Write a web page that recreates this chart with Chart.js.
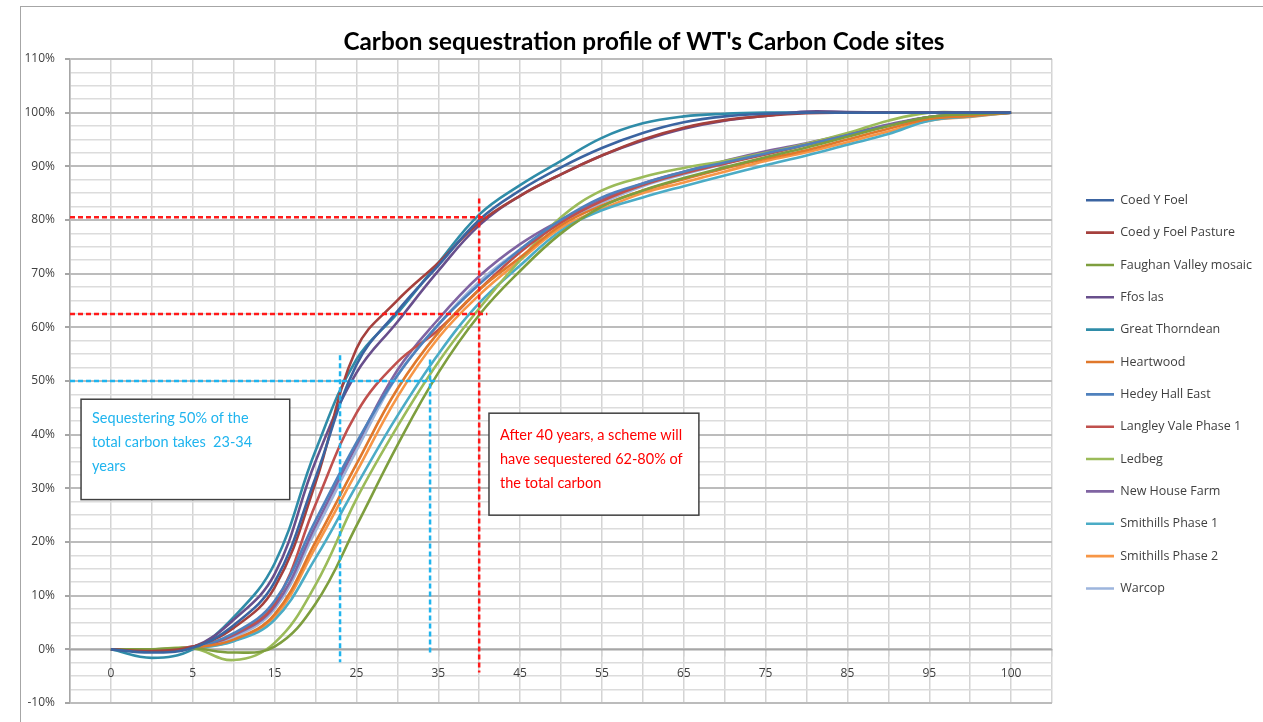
<!DOCTYPE html>
<html>
<head>
<meta charset="utf-8">
<script src="https://cdn.jsdelivr.net/npm/chart.js@4.4.1/dist/chart.umd.min.js"></script>
<style>
    html, body { margin: 0; padding: 0; background: #fff; }
    #wrap { position: relative; width: 1263px; height: 722px; overflow: hidden; }
    #frame { position: absolute; left: 20px; top: 6px; width: 1300px; height: 800px; border: 1.5px solid #a6a6a6; box-sizing: border-box; }
    canvas { position: absolute; left: 0; top: 0; }
</style>
</head>
<body>
<div id="wrap">
    <div id="frame"></div>
    <canvas id="carbonChart" width="1263" height="722"></canvas>
</div>
<script>
// years on the category axis (every other one is labelled)
const years = [0, 2.5, 5, 10, 15, 20, 25, 30, 35, 40, 45, 50, 55, 60, 65, 70, 75, 80, 85, 90, 95, 97.5, 100];

const siteNames = [
    'Coed Y Foel', 'Coed y Foel Pasture', 'Faughan Valley mosaic', 'Ffos las', 'Great Thorndean',
    'Heartwood', 'Hedey Hall East', 'Langley Vale Phase 1', 'Ledbeg', 'New House Farm',
    'Smithills Phase 1', 'Smithills Phase 2', 'Warcop'
];
const siteColours = [
    '#3b64a1', '#a5403d', '#7e9e3e', '#684f8c', '#2f8ca8', '#e0782b', '#4f81bd',
    '#c0504d', '#9bbb59', '#8064a2', '#4bacc6', '#f79646', '#9db5dd'
];

// % of total carbon sequestered
const coedYFoel        = [0, -0.6, 0.3, 4.5, 12.5, 32, 53, 63, 71.5, 80, 85.5, 89.8, 93.4, 96.2, 98.2, 99.3, 99.8, 100, 100, 100, 100, 100, 100];
const coedYFoelPasture = [0, -0.3, 0.5, 4, 11.5, 31, 56, 65, 72, 79.5, 84.5, 88.5, 92, 95, 97.2, 98.6, 99.4, 99.9, 100, 100, 100, 100, 100];
const faughanValley    = [0, 0, 0.2, -0.6, 0.5, 8.5, 23, 38, 51.5, 62.3, 70.5, 77.5, 82.5, 85.5, 87.8, 89.8, 91.7, 93.5, 95.5, 97.5, 99.2, 99.7, 100];
const ffosLas          = [0, 0, 0.4, 5.5, 14, 35, 51.5, 61, 70.5, 79, 84.5, 88.5, 92, 94.8, 97, 98.5, 99.4, 100.2, 100.1, 100, 100, 100, 100];
const greatThorndean   = [0, -1.6, 0, 6, 16, 37, 54, 62.6, 72, 81, 86.5, 91, 95.3, 98, 99.3, 99.8, 100, 100, 100, 100, 100, 100, 100];
const heartwood        = [0, -0.2, 0.3, 1.8, 6.5, 20, 34.5, 48.5, 59, 67, 73, 79, 82.7, 85.5, 87.6, 89.6, 91.4, 93, 95, 97, 98.8, 99.4, 100];
const hedeyHallEast    = [0, -0.3, 0.4, 3, 9, 24, 38.5, 51, 60.5, 68, 74.5, 80, 84.2, 86.8, 89, 90.7, 92.4, 94, 95.8, 97.6, 99.2, 99.7, 100];
const langleyVale1     = [0, -0.2, 0.5, 2.8, 8.5, 27, 44, 53.5, 59.5, 67, 74, 79.5, 83.5, 86.5, 88.7, 90.5, 92.2, 94, 95.8, 97.6, 99.2, 99.7, 100];
const ledbeg           = [0, 0, 0.2, -2, 1.2, 12, 28, 41.5, 53.5, 63.5, 72.5, 80.5, 85.5, 88, 89.7, 91, 92.5, 94.2, 96.2, 98.5, 100, 100, 100];
const newHouseFarm     = [0, 0, 0.5, 2.6, 8, 23, 38, 52, 61.5, 69.5, 75.5, 80, 83.8, 86.8, 89, 91, 92.8, 94.3, 96, 97.8, 99.2, 99.7, 100];
const smithills1       = [0, -0.3, 0.2, 1.5, 5.5, 17, 30.5, 43.5, 55, 64.5, 71.5, 78, 81.8, 84.2, 86.3, 88.3, 90.2, 92, 94, 96, 98.5, 99.3, 100];
const smithills2       = [0, -0.2, 0.3, 1.6, 6, 19, 33, 47, 58, 66, 72.5, 78.5, 82, 85, 87, 89, 91, 92.6, 94.5, 96.5, 98.5, 99.2, 100];
const warcop           = [0, -0.2, 0.4, 2.2, 7.5, 22, 37, 51, 60.5, 68.5, 74.5, 79.5, 83.2, 86.3, 88.5, 90.5, 92.3, 94, 95.7, 97.5, 99, 99.6, 100];

const siteValues = [coedYFoel, coedYFoelPasture, faughanValley, ffosLas, greatThorndean, heartwood, hedeyHallEast,
    langleyVale1, ledbeg, newHouseFarm, smithills1, smithills2, warcop];

// dashed guides, x in years (null = left edge of the plot), y in %
const guides = [
    {colour: '#ff1a1a', x1: null, y1: 80.5, x2: 41, y2: 80.5},
    {colour: '#ff1a1a', x1: null, y1: 62.5, x2: 41, y2: 62.5},
    {colour: '#ff1a1a', x1: 40, y1: 84, x2: 40, y2: -4.3},
    {colour: '#1fb4ee', x1: null, y1: 50, x2: 35, y2: 50},
    {colour: '#1fb4ee', x1: 23, y1: 54.8, x2: 23, y2: -2.4},
    {colour: '#1fb4ee', x1: 34, y1: 54, x2: 34, y2: -1.1}
];

// note boxes, x in axis slots, y in %
const notes = [
    {colour: '#1fb4ee', x1: -0.73, x2: 4.37, y1: 46.6, y2: 27.9, textTop: 19,
        lines: ['Sequestering 50% of the', 'total carbon takes  23-34', 'years']},
    {colour: '#ff0000', x1: 9.24, x2: 14.37, y1: 44, y2: 25, textTop: 22,
        lines: ['After 40 years, a scheme will', 'have sequestered 62-80% of', 'the total carbon']}
];

const yearToSlot = (year) => {
    for (let i = 1; i < years.length; i++) {
        if (year <= years[i]) {
            return i - 1 + (year - years[i - 1]) / (years[i] - years[i - 1]);
        }
    }
    return years.length - 1;
};

const isMajor = (v) => Math.abs(v % 10) < 1e-9;

const annotations = {
    id: 'annotations',
    afterDatasetsDraw(chart) {
        const {ctx, chartArea, scales: {x, y}} = chart;
        ctx.save();
        ctx.lineWidth = 2.5;
        ctx.setLineDash([5, 3]);
        guides.forEach((g) => {
            const px1 = g.x1 === null ? chartArea.left : x.getPixelForValue(yearToSlot(g.x1));
            const px2 = x.getPixelForValue(yearToSlot(g.x2));
            ctx.strokeStyle = g.colour;
            ctx.beginPath();
            ctx.moveTo(px1, y.getPixelForValue(g.y1));
            ctx.lineTo(px2, y.getPixelForValue(g.y2));
            ctx.stroke();
        });
        ctx.setLineDash([]);
        notes.forEach((n) => {
            const left = x.getPixelForValue(n.x1);
            const right = x.getPixelForValue(n.x2);
            const top = y.getPixelForValue(n.y1);
            const bottom = y.getPixelForValue(n.y2);
            ctx.fillStyle = '#ffffff';
            ctx.fillRect(left, top, right - left, bottom - top);
            ctx.strokeStyle = '#404040';
            ctx.lineWidth = 1.5;
            ctx.strokeRect(left, top, right - left, bottom - top);
            ctx.fillStyle = n.colour;
            ctx.font = '14.5px Lato';
            ctx.textBaseline = 'middle';
            n.lines.forEach((line, i) => {
                ctx.fillText(line, left + 11, top + n.textTop + i * 24);
            });
        });
        ctx.restore();
    }
};

// fixed width for the legend column and its place beside the plot
const legendPlacer = {
    id: 'legendPlacer',
    beforeInit(chart) {
        const fit = chart.legend.fit;
        chart.legend.fit = function () {
            fit.call(this);
            this.width = 211;
        };
    },
    afterLayout(chart) {
        const lg = chart.legend;
        const pad = lg.options.labels.padding;
        lg.left = 1086 - pad;
        lg.top = 194 - pad;
    }
};

Chart.defaults.font.family = "'Open Sans', sans-serif";
Chart.defaults.color = '#595959';

new Chart(document.getElementById('carbonChart'), {
    type: 'line',
    data: {
        datasets: siteNames.map((name, s) => ({
            label: name,
            data: siteValues[s].map((v, i) => ({x: i, y: v})),
            borderColor: siteColours[s],
            backgroundColor: siteColours[s],
            borderWidth: 2.6,
            pointRadius: 0,
            tension: 0.4,
            fill: false
        }))
    },
    options: {
        responsive: false,
        animation: false,
        devicePixelRatio: 1,
        events: [],
        layout: {padding: {left: 25, right: 0, top: 0, bottom: 19}},
        scales: {
            x: {
                type: 'linear',
                position: {y: 0},
                min: -1,
                max: years.length,
                ticks: {
                    stepSize: 1,
                    autoSkip: false,
                    maxRotation: 0,
                    padding: 11,
                    color: '#404040',
                    font: {size: 12},
                    callback: (v) => (Number.isInteger(v) && v >= 0 && v % 2 === 0 && v < years.length) ? String(years[v]) : ''
                },
                grid: {color: '#d4d4d4', lineWidth: 1.5, tickLength: 6},
                border: {display: true, color: '#a6a6a6', width: 1.5}
            },
            y: {
                min: -10,
                max: 110,
                afterFit: (scale) => { scale.width = 45; },
                ticks: {
                    stepSize: 2.5,
                    autoSkip: false,
                    padding: 10,
                    color: '#404040',
                    font: {size: 12},
                    callback: (v) => isMajor(v) ? v + '%' : ''
                },
                grid: {
                    color: (c) => isMajor(c.tick.value) ? '#bcbcbc' : '#dcdcdc',
                    lineWidth: (c) => isMajor(c.tick.value) ? 2 : 1.5,
                    tickColor: (c) => isMajor(c.tick.value) ? '#a6a6a6' : 'rgba(0,0,0,0)',
                    tickLength: 5
                },
                border: {display: true, color: '#a6a6a6', width: 1.5}
            }
        },
        plugins: {
            title: {
                display: true,
                text: "Carbon sequestration profile of WT's Carbon Code sites",
                color: '#000000',
                font: {family: 'Lato', size: 24.3, weight: 'bold'},
                padding: {top: 27.4, bottom: 2.4}
            },
            legend: {
                position: 'right',
                align: 'start',
                labels: {
                    color: '#404040',
                    font: {size: 12.5},
                    usePointStyle: true,
                    pointStyle: 'line',
                    pointStyleWidth: 28,
                    padding: 19.85
                }
            },
            tooltip: {enabled: false}
        }
    },
    plugins: [annotations, legendPlacer]
});
</script>
</body>
</html>
